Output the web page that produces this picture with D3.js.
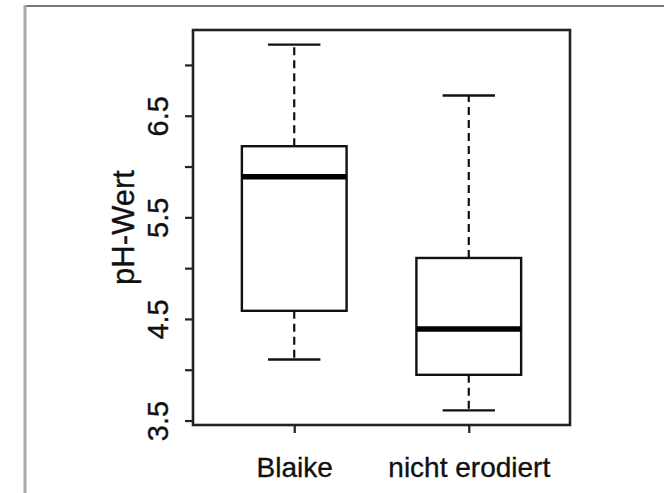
<!DOCTYPE html>
<html>
<head>
<meta charset="utf-8">
<script src="https://cdn.jsdelivr.net/npm/d3@7"></script>
<style>
  html, body { margin: 0; padding: 0; background: #fff; }
  svg { display: block; }
  text { font-family: "Liberation Sans", Arial, Helvetica, sans-serif; fill: #111; stroke: #111; stroke-width: 0.35px; }
</style>
</head>
<body>
<svg id="chart" width="664" height="493"></svg>
<script>
// ---- data ----
const categories   = ["Blaike", "nicht erodiert"];
const whiskerLow   = [4.1, 3.6];
const quartile1    = [4.58, 3.95];
const medians      = [5.9, 4.4];
const quartile3    = [6.2, 5.1];
const whiskerHigh  = [7.2, 6.7];
const yTickValues  = [3.5, 4.0, 4.5, 5.0, 5.5, 6.0, 6.5, 7.0];
const yTickLabels  = ["3.5", "", "4.5", "", "5.5", "", "6.5", ""];
const yAxisTitle   = "pH-Wert";

// ---- layout ----
const svg = d3.select("#chart");
const plot = { left: 193, right: 570, top: 30, bottom: 425 };

// outer frame (gray)
svg.append("line").attr("x1", 24).attr("x2", 664).attr("y1", 6).attr("y2", 6)
  .attr("stroke", "#777").attr("stroke-width", 2);
svg.append("line").attr("x1", 25).attr("x2", 25).attr("y1", 5).attr("y2", 493)
  .attr("stroke", "#aaa").attr("stroke-width", 3);

// R-like extended ranges (4%)
const dataMin = d3.min(whiskerLow), dataMax = d3.max(whiskerHigh);
const pad = (dataMax - dataMin) * 0.04;
const y = d3.scaleLinear().domain([dataMin - pad, dataMax + pad]).range([plot.bottom, plot.top]);
const x = d3.scaleLinear().domain([0.42, categories.length + 0.58]).range([plot.left, plot.right]);

const boxHalf = x(1.3) - x(1);
const capHalf = x(1.15) - x(1);

const groups = categories.map((c, i) => ({
  c, pos: i + 1, lo: whiskerLow[i], q1: quartile1[i], med: medians[i], q3: quartile3[i], hi: whiskerHigh[i]
}));

const g = svg.append("g");

// whiskers (dashed)
g.selectAll(".wlo").data(groups).join("line")
  .attr("x1", d => x(d.pos)).attr("x2", d => x(d.pos))
  .attr("y1", d => y(d.q1)).attr("y2", d => y(d.lo))
  .attr("stroke", "#111").attr("stroke-width", 2.2).attr("stroke-dasharray", "8,5");
g.selectAll(".whi").data(groups).join("line")
  .attr("x1", d => x(d.pos)).attr("x2", d => x(d.pos))
  .attr("y1", d => y(d.q3)).attr("y2", d => y(d.hi))
  .attr("stroke", "#111").attr("stroke-width", 2.2).attr("stroke-dasharray", "8,5");

// caps
["lo", "hi"].forEach(k => {
  g.selectAll(".cap" + k).data(groups).join("line")
    .attr("x1", d => x(d.pos) - capHalf).attr("x2", d => x(d.pos) + capHalf)
    .attr("y1", d => y(d[k])).attr("y2", d => y(d[k]))
    .attr("stroke", "#111").attr("stroke-width", 2.4);
});

// boxes
g.selectAll(".box").data(groups).join("rect")
  .attr("x", d => x(d.pos) - boxHalf).attr("width", 2 * boxHalf)
  .attr("y", d => y(d.q3)).attr("height", d => y(d.q1) - y(d.q3))
  .attr("fill", "#fff").attr("stroke", "#111").attr("stroke-width", 2.4);

// medians
g.selectAll(".med").data(groups).join("line")
  .attr("x1", d => x(d.pos) - boxHalf).attr("x2", d => x(d.pos) + boxHalf)
  .attr("y1", d => y(d.med)).attr("y2", d => y(d.med))
  .attr("stroke", "#000").attr("stroke-width", 5.5);

// plot box
svg.append("rect").attr("x", plot.left).attr("y", plot.top)
  .attr("width", plot.right - plot.left).attr("height", plot.bottom - plot.top)
  .attr("fill", "none").attr("stroke", "#222").attr("stroke-width", 2.6);

// y axis
const yAxis = d3.axisLeft(y).tickValues(yTickValues)
  .tickFormat((d, i) => yTickLabels[i]).tickSize(8).tickPadding(0);
const ya = svg.append("g").attr("transform", `translate(${plot.left},0)`).call(yAxis);
ya.select(".domain").remove();
ya.selectAll(".tick line").attr("stroke", "#222").attr("stroke-width", 2.2);
ya.selectAll(".tick text")
  .attr("x", 0).attr("y", 0).attr("dy", null)
  .attr("text-anchor", "middle")
  .attr("transform", "translate(-25,0) rotate(-90)")
  .style("font-size", "29px");

// x axis
const xAxis = d3.axisBottom(x).tickValues(categories.map((c, i) => i + 1))
  .tickFormat((d) => categories[d - 1]).tickSize(8).tickPadding(0);
const xa = svg.append("g").attr("transform", `translate(0,${plot.bottom})`).call(xAxis);
xa.select(".domain").remove();
xa.selectAll(".tick line").attr("stroke", "#222").attr("stroke-width", 2.2);
xa.selectAll(".tick text").attr("y", 52).attr("dy", null)
  .style("font-size", "28px");

// y title
svg.append("text")
  .attr("transform", `translate(134,${(plot.top + plot.bottom) / 2}) rotate(-90)`)
  .attr("text-anchor", "middle")
  .style("font-size", "31px")
  .text(yAxisTitle);
</script>
</body>
</html>
